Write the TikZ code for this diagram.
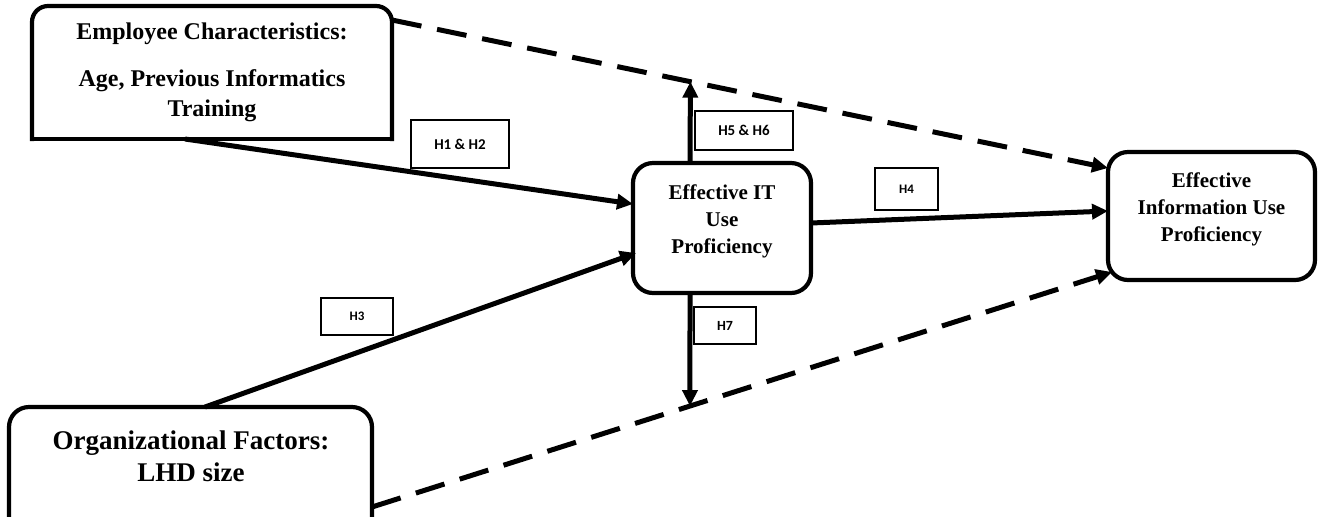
\documentclass[tikz,border=0pt]{standalone}
\usepackage{fontspec}
\setmainfont{Liberation Serif}
\newfontfamily\lblfont{Carlito}
\usetikzlibrary{calc,arrows.meta}
\tikzset{
  area/.style={rectangle, inner sep=0pt, outer sep=0pt},
  boxline/.style={line width=2.1pt, line cap=rect},
  roundbox/.style={area, draw, line width=2.1pt, rounded corners=10pt},
  ttext/.style={align=center, font=\bfseries\fontsize{10.5}{13.4}\selectfont, inner sep=0pt},
  hyp/.style={draw, line width=0.8pt, inner sep=0pt, font=\lblfont\bfseries\fontsize{7.5}{9}\selectfont},
  arr/.style={line width=2.5pt, -{Triangle[length=8pt,width=7.5pt]}},
  darr/.style={arr, dash pattern=on 15pt off 8pt},
}
\begin{document}
\begin{tikzpicture}[x=0.5pt,y=-0.5pt]
\useasboundingbox (0,0) rectangle (1318,516);
\clip (0,0) rectangle (1318,516);
\fill[white] (0,0) rectangle (1318,516);

% Employee characteristics box (rounded top corners)
\node[area, minimum width=180pt, minimum height=66.5pt, align=center,
      font=\bfseries\fontsize{12}{15}\selectfont] (emp) at (212,72.5)
  {Employee Characteristics:\\[8.5pt]Age, Previous Informatics\\Training};
\draw[boxline, rounded corners=8pt] (emp.south west) -- (emp.north west) -- (emp.north east) -- (emp.south east);
\draw[boxline] (emp.south west) -- (emp.south east);

% Organizational factors box (bottom cut off)
\node[area, minimum width=181.5pt, minimum height=67pt] (org) at (190.5,474) {};
\draw[boxline, rounded corners=10pt] (org.south west) -- (org.north west) -- (org.north east) -- (org.south east);
\node[ttext, font=\bfseries\fontsize{13.5}{16}\selectfont] (orgtxt) at (191,456) {Organizational Factors:\\LHD size};

% Effective IT Use Proficiency
\node[roundbox, minimum width=89pt, minimum height=65pt] (itp) at (722,228) {};
\node[ttext] (itptxt) at (722,221.5) {Effective IT\\Use\\Proficiency};

% Effective Information Use Proficiency
\node[roundbox, minimum width=103.5pt, minimum height=64pt] (info) at (1211.5,216) {};
\node[ttext] (infotxt) at (1211.5,209.5) {Effective\\Information Use\\Proficiency};

% hypothesis labels
\node[hyp, minimum width=49pt, minimum height=24pt] (h12) at (460,144) {H1 \& H2};
\node[hyp, minimum width=49pt, minimum height=19.5pt] (h56) at (744,130.5) {H5 \& H6};
\node[hyp, minimum width=31.5pt, minimum height=21pt, font=\lblfont\bfseries\fontsize{6.5}{8}\selectfont] (h4) at (906.5,189) {H4};
\node[hyp, minimum width=36pt, minimum height=18.5pt, font=\lblfont\bfseries\fontsize{6.5}{8}\selectfont] (h3) at (357,316.5) {H3};
\node[hyp, minimum width=31pt, minimum height=18.5pt, font=\lblfont\bfseries\fontsize{7}{8}\selectfont] (h7) at (725,325.5) {H7};

% dashed line end points
\coordinate (d1s) at ($(emp.north east)+(0,14)$);
\coordinate (d1e) at ($(info.west)+(0,-48)$);
\coordinate (d2s) at ($(org.east)+(0,33)$);
\coordinate (d2e) at ($(info.south west)+(4,-8)$);
\coordinate (upt) at ($(d1s)!0.4168!(d1e)$);
\coordinate (dnt) at ($(d2s)!0.4297!(d2e)$);

% solid arrows
\draw[arr] ($(emp.south)+(-27,0)$) -- ($(itp.west)+(0,-24)$);
\draw[arr] ($(org.north west)+(196,0)$) -- ($(itp.west)+(3,25)$);
\draw[arr] ($(itp.east)+(0,-5)$) -- ($(info.west)+(0,-5)$);
\draw[arr] ($(itp.north)+(-32,0)$) -- (upt);
\draw[arr] ($(itp.south)+(-32,0)$) -- (dnt);

% dashed arrows
\draw[darr] (d1s) -- (d1e);
\draw[darr] (d2s) -- (d2e);
\end{tikzpicture}
\end{document}
